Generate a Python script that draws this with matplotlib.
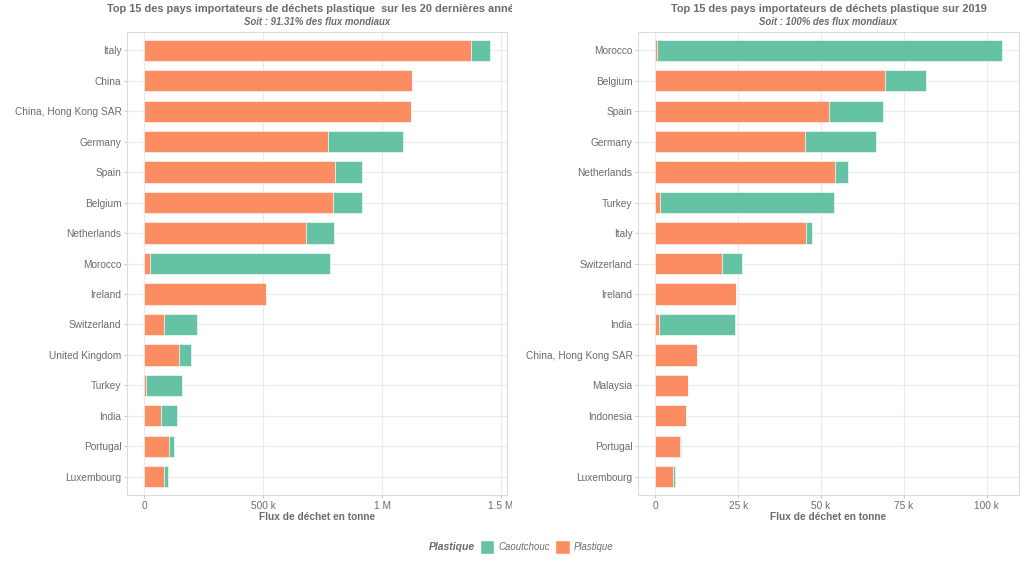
"""
Top 15 importers of plastic waste: last 20 years (left) and 2019 (right)
Stacked horizontal bars, Plastique + Caoutchouc
"""

import matplotlib
matplotlib.use('Agg')
import matplotlib.pyplot as plt
import matplotlib.ticker as tk
from matplotlib.transforms import Bbox, TransformedBbox
from matplotlib.patches import Patch
import numpy as np

plt.rcParams['font.family'] = ['Liberation Sans', 'DejaVu Sans']

# values in tonnes
countries_20y = ['Italy', 'China', 'China, Hong Kong SAR', 'Germany', 'Spain', 'Belgium',
                 'Netherlands', 'Morocco', 'Ireland', 'Switzerland', 'United Kingdom',
                 'Turkey', 'India', 'Portugal', 'Luxembourg']
plastique_20y = [1373e3, 1127e3, 1120e3, 771e3, 804e3, 794e3, 680e3, 25e3, 512e3,
                 83e3, 148e3, 7e3, 70e3, 106e3, 83e3]
caoutchouc_20y = [80e3, 0, 0, 317e3, 110e3, 120e3, 117e3, 755e3, 0,
                  138e3, 48e3, 151e3, 69e3, 19e3, 16e3]

countries_2019 = ['Morocco', 'Belgium', 'Spain', 'Germany', 'Netherlands', 'Turkey',
                  'Italy', 'Switzerland', 'Ireland', 'India', 'China, Hong Kong SAR',
                  'Malaysia', 'Indonesia', 'Portugal', 'Luxembourg']
plastique_2019 = [0.4e3, 69.3e3, 52.3e3, 45.2e3, 54.2e3, 1.5e3, 45.5e3, 20.2e3,
                  24.2e3, 1.0e3, 12.6e3, 10.0e3, 9.4e3, 7.3e3, 5.3e3]
caoutchouc_2019 = [104.1e3, 12.4e3, 16.5e3, 21.4e3, 4.0e3, 52.4e3, 1.8e3, 6.0e3,
                   0.2e3, 22.9e3, 0, 0, 0, 0.3e3, 0.6e3]

titles = ['Top 15 des pays importateurs de déchets plastique  sur les 20 dernières années',
          'Top 15 des pays importateurs de déchets plastique sur 2019']
subtitles = ['Soit : 91.31% des flux mondiaux', 'Soit : 100% des flux mondiaux']

col_plast = '#FC8D62'
col_caout = '#66C2A5'
txt_col = '#6b6b6b'
grid_col = '#ebebeb'


def fmt_left(x, pos):
    if x == 0:
        return '0'
    if x >= 1e6:
        return ('%g M' % (x / 1e6))
    return '%g k' % (x / 1e3)


def fmt_right(x, pos):
    if x == 0:
        return '0'
    return '%g k' % (x / 1e3)


def plot_panel(ax, countries, plast, caout, ticks, fmt, clip=None):
    n = len(countries)
    y = np.arange(n)[::-1] + 1
    plast = np.array(plast)
    caout = np.array(caout)
    ax.barh(y, plast, height=0.7, color=col_plast, edgecolor='white', linewidth=0.4, zorder=3)
    ax.barh(y, caout, left=plast, height=0.7, color=col_caout, edgecolor='white', linewidth=0.4, zorder=3)
    tot = (plast + caout).max()
    ax.set_xlim(-0.05 * tot, 1.05 * tot)
    ax.set_ylim(0.4, n + 0.6)
    ax.set_yticks(y)
    ax.set_yticklabels(countries)
    ax.set_xticks(ticks)
    ax.xaxis.set_major_formatter(tk.FuncFormatter(fmt))
    ax.grid(True, color=grid_col, linewidth=0.8, zorder=0)
    ax.set_axisbelow(True)
    for s in ax.spines.values():
        s.set_color('#dcdcdc')
        s.set_linewidth(0.8)
    ax.tick_params(labelsize=7.3, length=2.5, width=0.6, pad=1.5,
                   colors='#bdbdbd', labelcolor=txt_col)
    ax.set_xlabel('Flux de déchet en tonne', fontsize=7.3, fontweight='bold', color=txt_col, labelpad=1)
    if clip is not None:
        for lab in ax.get_xticklabels():
            lab.set_clip_box(clip)
            lab.set_clip_on(True)


fig = plt.figure(figsize=(10.24, 5.69), dpi=100)
clip_left = TransformedBbox(Bbox([[0, 0], [512 / 1024, 1]]), fig.transFigure)

ax1 = fig.add_axes([127 / 1024, 1 - 495 / 569, 380 / 1024, 463 / 569])
ax2 = fig.add_axes([638 / 1024, 1 - 495 / 569, 381 / 1024, 463 / 569])

plot_panel(ax1, countries_20y, plastique_20y, caoutchouc_20y, [0, 5e5, 1e6, 1.5e6], fmt_left, clip=clip_left)
plot_panel(ax2, countries_2019, plastique_2019, caoutchouc_2019, [0, 25e3, 50e3, 75e3, 100e3], fmt_right)

# titles centred over each panel
for ax, t, st, clip in [(ax1, titles[0], subtitles[0], clip_left), (ax2, titles[1], subtitles[1], None)]:
    pos = ax.get_position()
    xc = (pos.x0 + pos.x1) / 2
    tt = fig.text(xc, 1 - 9 / 569, t, ha='center', va='center', fontsize=7.9,
                  fontweight='bold', color=txt_col)
    fig.text(xc, 1 - 22 / 569, st, ha='center', va='center', fontsize=6.9,
             fontweight='bold', fontstyle='italic', color=txt_col)
    if clip is not None:
        tt.set_clip_box(clip)
        tt.set_clip_on(True)

# legend: title as a blank first entry so it sits on the left of the keys
handles = [Patch(visible=False, label='Plastique'),
           Patch(facecolor=col_caout, edgecolor='white', label='Caoutchouc'),
           Patch(facecolor=col_plast, edgecolor='white', label='Plastique')]
leg = fig.legend(handles=handles, loc='center', bbox_to_anchor=(512 / 1024, 1 - 547 / 569),
                 ncol=3, frameon=False, fontsize=6.9,
                 handlelength=1.5, handleheight=2.0, handletextpad=0.45, columnspacing=0.5)
texts = leg.get_texts()
for txt in texts:
    txt.set_fontstyle('italic')
    txt.set_color(txt_col)
texts[0].set_fontweight('bold')
texts[0].set_fontsize(7.5)
leg.legend_handles[0].set_visible(False)

fig.savefig('out.png', dpi=100)
